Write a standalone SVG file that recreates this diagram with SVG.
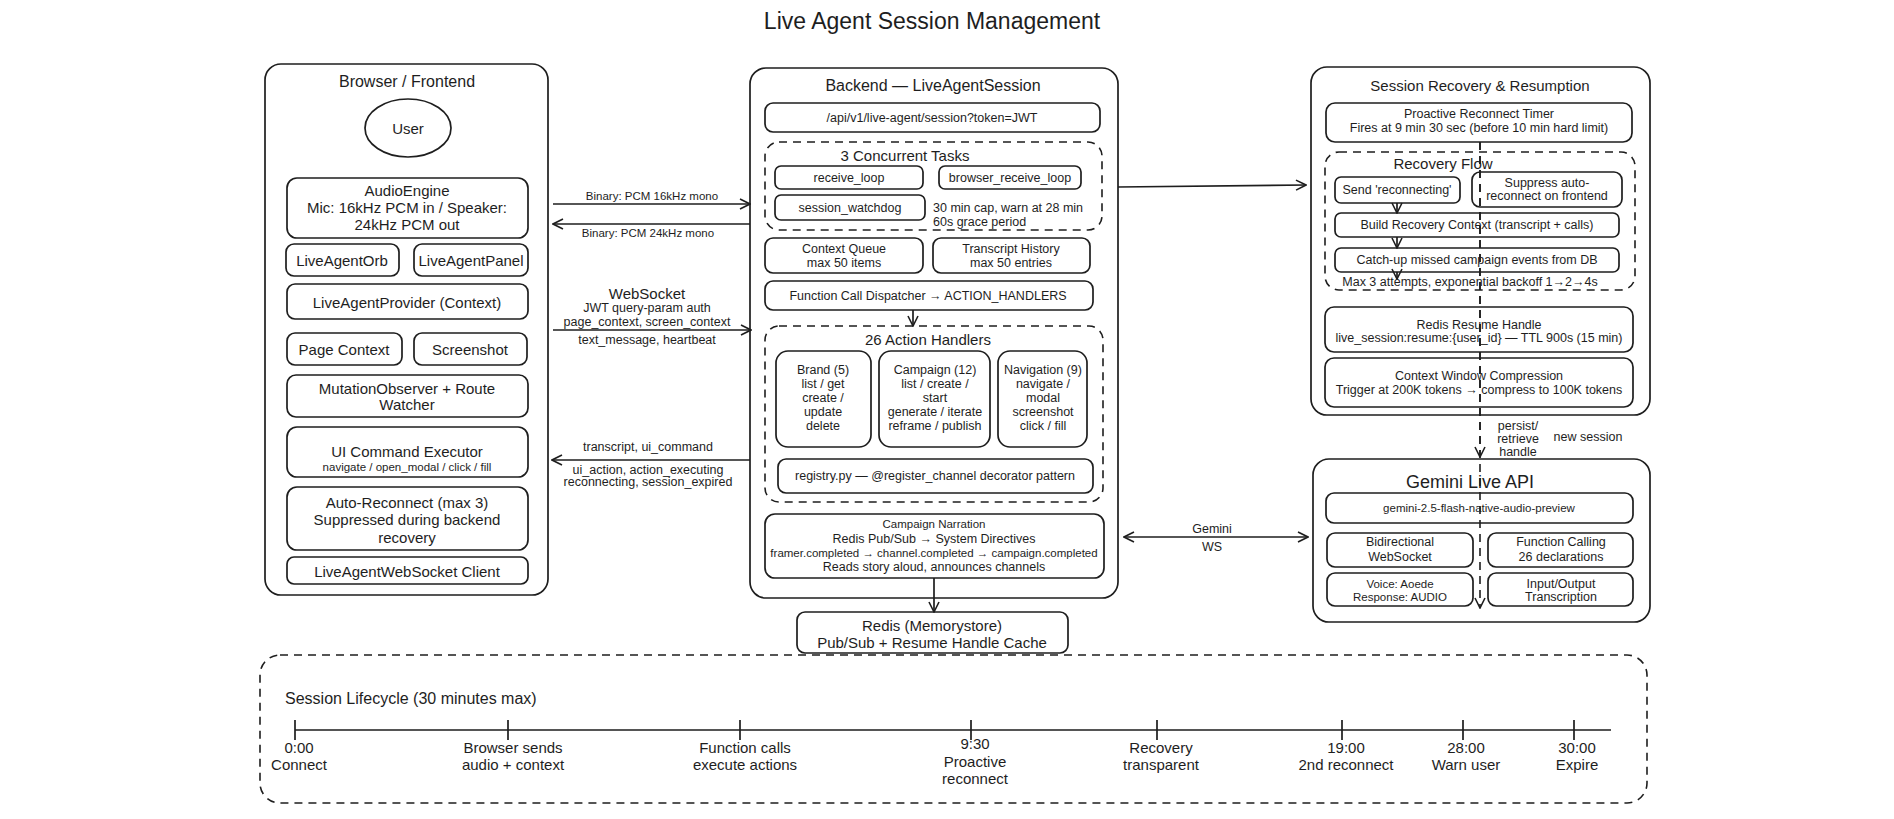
<svg xmlns="http://www.w3.org/2000/svg" width="1894" height="819" viewBox="0 0 1894 819">
<defs>
<style>
.b{fill:#fff;stroke:#1e1e1e;stroke-width:1.7}
.d{fill:none;stroke:#1e1e1e;stroke-width:1.6;stroke-dasharray:8 6}
.c{fill:none;stroke:#1e1e1e;stroke-width:1.7}
.cd{fill:none;stroke:#1e1e1e;stroke-width:1.6;stroke-dasharray:8 6}
text{font-family:"Liberation Sans",Arial,sans-serif;fill:#1e1e1e;text-anchor:middle;dominant-baseline:central}
.l{text-anchor:start}
.s11{font-size:11.5px}
.s12{font-size:12.5px}
.s14{font-size:15px}
.s15{font-size:16px}
.s17{font-size:18px}
.s22{font-size:23px}
</style>
<marker id="ah" viewBox="0 0 12 12" refX="11" refY="6" markerWidth="12" markerHeight="12" markerUnits="userSpaceOnUse" orient="auto-start-reverse">
<path d="M1,1 L11,6 L1,11" fill="none" stroke="#1e1e1e" stroke-width="1.6"/>
</marker>
</defs>
<rect width="1894" height="819" fill="#fff"/>
<text class="s22" x="932" y="21">Live Agent Session Management</text>

<g id="browser">
<rect class="b" x="265" y="64" width="283" height="531" rx="16"/>
<text class="s15" x="407" y="81">Browser / Frontend</text>
</g>
<g id="user"><ellipse class="b" cx="408" cy="128" rx="43" ry="29"/><text class="s14" x="408" y="128">User</text></g>
<g id="audioengine"><rect class="b" x="287" y="178" width="241" height="60" rx="10"/>
<text class="s14" x="407" y="190">AudioEngine</text><text class="s14" x="407" y="207">Mic: 16kHz PCM in / Speaker:</text><text class="s14" x="407" y="224">24kHz PCM out</text></g>
<g id="orb"><rect class="b" x="286" y="244" width="113" height="32" rx="8"/><text class="s14" x="342" y="260">LiveAgentOrb</text></g>
<g id="panel"><rect class="b" x="414" y="244" width="114" height="32" rx="8"/><text class="s14" x="471" y="260">LiveAgentPanel</text></g>
<g id="provider"><rect class="b" x="287" y="284" width="241" height="35" rx="8"/><text class="s14" x="407" y="302">LiveAgentProvider (Context)</text></g>
<g id="pagecontext"><rect class="b" x="287" y="333" width="115" height="32" rx="8"/><text class="s14" x="344" y="349">Page Context</text></g>
<g id="screenshot"><rect class="b" x="414" y="333" width="113" height="32" rx="8"/><text class="s14" x="470" y="349">Screenshot</text></g>
<g id="mutation"><rect class="b" x="287" y="375" width="241" height="42" rx="9"/><text class="s14" x="407" y="388">MutationObserver + Route</text><text class="s14" x="407" y="404">Watcher</text></g>
<g id="uicmd"><rect class="b" x="287" y="427" width="241" height="50" rx="10"/><text class="s14" x="407" y="451">UI Command Executor</text><text class="s11" x="407" y="467">navigate / open_modal / click / fill</text></g>
<g id="autoreconnect"><rect class="b" x="287" y="487" width="241" height="63" rx="10"/><text class="s14" x="407" y="502">Auto-Reconnect (max 3)</text><text class="s14" x="407" y="519">Suppressed during backend</text><text class="s14" x="407" y="537">recovery</text></g>
<g id="wsclient"><rect class="b" x="287" y="557" width="241" height="27" rx="7"/><text class="s14" x="407" y="571">LiveAgentWebSocket Client</text></g>

<g id="backend">
<rect class="b" x="750" y="68" width="368" height="530" rx="16"/>
<text class="s15" x="933" y="85">Backend — LiveAgentSession</text>
</g>
<g id="api"><rect class="b" x="765" y="103" width="335" height="29" rx="8"/><text class="s12" x="932" y="118">/api/v1/live-agent/session?token=JWT</text></g>
<g id="tasks"><rect class="d" x="765" y="142" width="337" height="88" rx="14"/><text class="s14" x="905" y="155">3 Concurrent Tasks</text></g>
<g id="receiveloop"><rect class="b" x="775" y="166" width="148" height="23" rx="6"/><text class="s12" x="849" y="178">receive_loop</text></g>
<g id="browserloop"><rect class="b" x="939" y="166" width="142" height="23" rx="6"/><text class="s12" x="1010" y="178">browser_receive_loop</text></g>
<g id="watchdog"><rect class="b" x="775" y="195" width="150" height="25" rx="6"/><text class="s12" x="850" y="208">session_watchdog</text>
<text class="s12 l" x="933" y="208">30 min cap, warn at 28 min</text><text class="s12 l" x="933" y="222">60s grace period</text></g>
<g id="ctxqueue"><rect class="b" x="765" y="238" width="158" height="35" rx="8"/><text class="s12" x="844" y="249">Context Queue</text><text class="s12" x="844" y="263">max 50 items</text></g>
<g id="transcript"><rect class="b" x="933" y="238" width="157" height="35" rx="8"/><text class="s12" x="1011" y="249">Transcript History</text><text class="s12" x="1011" y="263">max 50 entries</text></g>
<g id="dispatcher"><rect class="b" x="765" y="281" width="328" height="29" rx="8"/><text class="s12" x="928" y="296">Function Call Dispatcher → ACTION_HANDLERS</text></g>
<g id="handlers"><rect class="d" x="765" y="326" width="338" height="176" rx="14"/><text class="s14" x="928" y="339">26 Action Handlers</text></g>
<g id="brand"><rect class="b" x="776" y="351" width="95" height="96" rx="12"/>
<text class="s12" x="823" y="370">Brand (5)</text><text class="s12" x="823" y="384">list / get</text><text class="s12" x="823" y="398">create /</text><text class="s12" x="823" y="412">update</text><text class="s12" x="823" y="426">delete</text></g>
<g id="campaign"><rect class="b" x="879" y="351" width="111" height="96" rx="12"/>
<text class="s12" x="935" y="370">Campaign (12)</text><text class="s12" x="935" y="384">list / create /</text><text class="s12" x="935" y="398">start</text><text class="s12" x="935" y="412">generate / iterate</text><text class="s12" x="935" y="426">reframe / publish</text></g>
<g id="navigation"><rect class="b" x="998" y="351" width="89" height="96" rx="12"/>
<text class="s12" x="1043" y="370">Navigation (9)</text><text class="s12" x="1043" y="384">navigate /</text><text class="s12" x="1043" y="398">modal</text><text class="s12" x="1043" y="412">screenshot</text><text class="s12" x="1043" y="426">click / fill</text></g>
<g id="registry"><rect class="b" x="778" y="459" width="315" height="34" rx="8"/><text class="s12" x="935" y="476">registry.py — @register_channel decorator pattern</text></g>
<g id="narration"><rect class="b" x="765" y="514" width="339" height="64" rx="10"/>
<text class="s11" x="934" y="524">Campaign Narration</text><text class="s12" x="934" y="539">Redis Pub/Sub → System Directives</text><text class="s11" x="934" y="553">framer.completed → channel.completed → campaign.completed</text><text class="s12" x="934" y="567">Reads story aloud, announces channels</text></g>
<g id="redis"><rect class="b" x="797" y="612" width="271" height="41" rx="8"/><text class="s14" x="932" y="625">Redis (Memorystore)</text><text class="s14" x="932" y="642">Pub/Sub + Resume Handle Cache</text></g>

<g id="recovery">
<rect class="b" x="1311" y="67" width="339" height="348" rx="16"/>
<text class="s14" x="1480" y="85">Session Recovery &amp; Resumption</text>
</g>
<g id="proactive"><rect class="b" x="1326" y="103" width="306" height="39" rx="9"/><text class="s12" x="1479" y="114">Proactive Reconnect Timer</text><text class="s12" x="1479" y="128">Fires at 9 min 30 sec (before 10 min hard limit)</text></g>
<g id="recoveryflow"><rect class="d" x="1325" y="152" width="310" height="138" rx="14"/><text class="s14" x="1443" y="163">Recovery Flow</text>
<text class="s12" x="1470" y="282">Max 3 attempts, exponential backoff 1→2→4s</text></g>
<g id="sendreconnecting"><rect class="b" x="1335" y="177" width="125" height="26" rx="6"/><text class="s12" x="1397" y="190">Send 'reconnecting'</text></g>
<g id="suppress"><rect class="b" x="1472" y="172" width="150" height="35" rx="8"/><text class="s12" x="1547" y="183">Suppress auto-</text><text class="s12" x="1547" y="196">reconnect on frontend</text></g>
<g id="buildctx"><rect class="b" x="1335" y="213" width="284" height="24" rx="6"/><text class="s12" x="1477" y="225">Build Recovery Context (transcript + calls)</text></g>
<g id="catchup"><rect class="b" x="1335" y="248" width="284" height="24" rx="6"/><text class="s12" x="1477" y="260">Catch-up missed campaign events from DB</text></g>
<g id="resumehandle"><rect class="b" x="1325" y="307" width="308" height="45" rx="9"/><text class="s12" x="1479" y="325">Redis Resume Handle</text><text class="s12" x="1479" y="338">live_session:resume:{user_id} — TTL 900s (15 min)</text></g>
<g id="compression"><rect class="b" x="1325" y="358" width="308" height="49" rx="9"/><text class="s12" x="1479" y="376">Context Window Compression</text><text class="s12" x="1479" y="390">Trigger at 200K tokens → compress to 100K tokens</text></g>

<g id="gemini">
<rect class="b" x="1313" y="459" width="337" height="163" rx="16"/>
<text class="s17" x="1470" y="482">Gemini Live API</text>
</g>
<g id="model"><rect class="b" x="1326" y="493" width="307" height="30" rx="8"/><text class="s11" x="1479" y="508">gemini-2.5-flash-native-audio-preview</text></g>
<g id="bidi"><rect class="b" x="1327" y="533" width="146" height="34" rx="8"/><text class="s12" x="1400" y="542">Bidirectional</text><text class="s12" x="1400" y="557">WebSocket</text></g>
<g id="fncalling"><rect class="b" x="1488" y="533" width="145" height="34" rx="8"/><text class="s12" x="1561" y="542">Function Calling</text><text class="s12" x="1561" y="557">26 declarations</text></g>
<g id="voice"><rect class="b" x="1327" y="573" width="146" height="33" rx="8"/><text class="s11" x="1400" y="584">Voice: Aoede</text><text class="s11" x="1400" y="597">Response: AUDIO</text></g>
<g id="transcription"><rect class="b" x="1488" y="573" width="145" height="33" rx="8"/><text class="s12" x="1561" y="584">Input/Output</text><text class="s12" x="1561" y="597">Transcription</text></g>

<g id="connectors">
<path class="c" d="M553,204 L750,204" marker-end="url(#ah)"/>
<text class="s11" x="652" y="196">Binary: PCM 16kHz mono</text>
<path class="c" d="M750,224 L553,224" marker-end="url(#ah)"/>
<text class="s11" x="648" y="233">Binary: PCM 24kHz mono</text>
<path class="c" d="M553,330 L751,330" marker-end="url(#ah)"/>
<text class="s14" x="647" y="293">WebSocket</text>
<text class="s12" x="647" y="308">JWT query-param auth</text>
<text class="s12" x="647" y="322">page_context, screen_context</text>
<text class="s12" x="647" y="340">text_message, heartbeat</text>
<path class="c" d="M750,460 L552,460" marker-end="url(#ah)"/>
<text class="s12" x="648" y="447">transcript, ui_command</text>
<text class="s12" x="648" y="470">ui_action, action_executing</text>
<text class="s12" x="648" y="482">reconnecting, session_expired</text>
<path class="c" d="M913,310 L913,326" marker-end="url(#ah)"/>
<path class="c" d="M934,578 L934,612" marker-end="url(#ah)"/>
<path class="c" d="M1118,187 L1306,185" marker-end="url(#ah)"/>
<path class="c" d="M1124,537 L1308,537" marker-start="url(#ah)" marker-end="url(#ah)"/>
<text class="s12" x="1212" y="529">Gemini</text>
<text class="s12" x="1212" y="547">WS</text>
<path class="c" d="M1397,203 L1397,213" marker-end="url(#ah)"/>
<path class="c" d="M1397,237 L1397,248" marker-end="url(#ah)"/>
<path class="c" d="M1397,272 L1397,279" marker-end="url(#ah)"/>
<path class="cd" d="M1480,142 L1480,457" marker-end="url(#ah)"/>
<path class="cd" d="M1480,142 L1480,608" marker-end="url(#ah)"/>
<text class="s12" x="1518" y="426">persist/</text>
<text class="s12" x="1518" y="439">retrieve</text>
<text class="s12" x="1518" y="452">handle</text>
<text class="s12" x="1588" y="437">new session</text>
</g>

<g id="lifecycle">
<rect class="d" x="260" y="655" width="1387" height="148" rx="20"/>
<text class="s15 l" x="285" y="698">Session Lifecycle (30 minutes max)</text>
<path class="c" d="M295,730 L1611,730 M295,720 L295,740 M508,720 L508,740 M740,720 L740,740 M971,720 L971,740 M1157,720 L1157,740 M1342,720 L1342,740 M1463,720 L1463,740 M1574,720 L1574,740"/>
<text class="s14" x="299" y="747">0:00</text><text class="s14" x="299" y="764">Connect</text>
<text class="s14" x="513" y="747">Browser sends</text><text class="s14" x="513" y="764">audio + context</text>
<text class="s14" x="745" y="747">Function calls</text><text class="s14" x="745" y="764">execute actions</text>
<text class="s14" x="975" y="743">9:30</text><text class="s14" x="975" y="761">Proactive</text><text class="s14" x="975" y="778">reconnect</text>
<text class="s14" x="1161" y="747">Recovery</text><text class="s14" x="1161" y="764">transparent</text>
<text class="s14" x="1346" y="747">19:00</text><text class="s14" x="1346" y="764">2nd reconnect</text>
<text class="s14" x="1466" y="747">28:00</text><text class="s14" x="1466" y="764">Warn user</text>
<text class="s14" x="1577" y="747">30:00</text><text class="s14" x="1577" y="764">Expire</text>
</g>
</svg>
